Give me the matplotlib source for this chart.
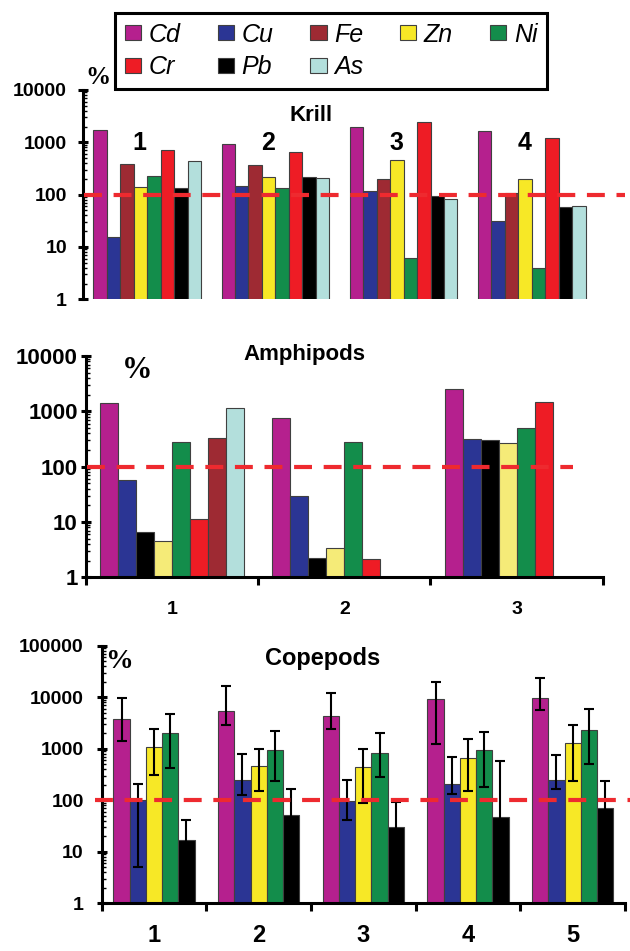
import numpy as np
import matplotlib
matplotlib.use("Agg")
import matplotlib.pyplot as plt
import matplotlib.transforms as mtransforms
from matplotlib.ticker import LogLocator, NullFormatter, FixedLocator, FixedFormatter

plt.rcParams['font.family'] = ['Liberation Sans', 'DejaVu Sans']

# ---------------- data ----------------
metal_colors = {
    'Cd': '#B5208E', 'Cu': '#2B3594', 'Fe': '#9E2A33', 'Zn': '#F7E826',
    'Ni': '#138D4B', 'Cr': '#EE1C25', 'Pb': '#000000', 'As': '#B3DFDC',
}
zn_pale = '#F5EB78'

krill_groups = ['1', '2', '3', '4']
krill_metals = ['Cd', 'Cu', 'Fe', 'Zn', 'Ni', 'Cr', 'Pb', 'As']
krill_Cd = [1730, 930, 2000, 1650]
krill_Cu = [15.5, 149, 116, 32]
krill_Fe = [386, 370, 199, 109]
krill_Zn = [142, 218, 455, 199]
krill_Ni = [228, 136, 6.1, 4.0]
krill_Cr = [726, 664, 2420, 1230]
krill_Pb = [136, 218, 96, 57]
krill_As = [435, 206, 84, 62]

amph_groups = ['1', '2', '3']
amph_metals = ['Cd', 'Cu', 'Pb', 'Zn', 'Ni', 'Cr', 'Fe', 'As']
amph_Cd = [1400, 760, 2510]
amph_Cu = [57, 29, 313]
amph_Pb = [6.7, 2.26, 300]
amph_Zn = [4.5, 3.4, 268]
amph_Ni = [283, 283, 507]
amph_Cr = [11.5, 2.14, 1460]
amph_Fe = [326, np.nan, np.nan]
amph_As = [1150, np.nan, np.nan]

cope_groups = ['1', '2', '3', '4', '5']
cope_metals = ['Cd', 'Cu', 'Zn', 'Ni', 'Pb']
cope_Cd = [3740, 5500, 4280, 9270, 9690]
cope_Cd_hi = [9550, 16600, 12300, 19800, 24000]
cope_Cd_lo = [1440, 2900, 2430, 1220, 5590]
cope_Cu = [104, 248, 98, 205, 248]
cope_Cu_hi = [207, 794, 244, 684, 758]
cope_Cu_lo = [5.0, 128, 41.5, 133, 164]
cope_Zn = [1080, 470, 450, 663, 1310]
cope_Zn_hi = [2430, 1005, 1005, 1550, 2940]
cope_Zn_lo = [306, 154, 90, 151, 240]
cope_Ni = [2060, 935, 840, 935, 2290]
cope_Ni_hi = [4740, 2220, 2000, 2120, 5850]
cope_Ni_lo = [418, 240, 287, 181, 507]
cope_Pb = [16.9, 52.5, 30.3, 47.4, 70]
cope_Pb_hi = [41.5, 166, 91.5, 587, 240]
cope_Pb_lo = [6.9, 16.6, 10, 3.8, 20.4]

reference_level = 100

# ---------------- figure ----------------
W, H = 630, 951
fig = plt.figure(figsize=(W / 100, H / 100), dpi=100)


def px_axes(l, r, t, b):
    return fig.add_axes([l / W, 1 - b / H, (r - l) / W, (b - t) / H])


ax_k = px_axes(83, 596, 90, 299.3)
ax_a = px_axes(86, 602.7, 356, 577.3)
ax_c = px_axes(101.7, 625, 646, 903.3)

EDGE = '#404040'
RED = '#EE2A2F'
SPW = 2.2


def style_y(ax, ymax, pad, size):
    ax.set_yscale('log')
    ax.set_ylim(1, ymax)
    ax.yaxis.set_minor_locator(LogLocator(base=10, subs=np.arange(2, 10), numticks=20))
    ax.yaxis.set_minor_formatter(NullFormatter())
    ticks = [10 ** k for k in range(0, int(round(np.log10(ymax))) + 1)]
    ax.set_yticks(ticks)
    ax.set_yticklabels([str(t) for t in ticks])
    ax.tick_params(axis='y', which='major', direction='inout', length=7, width=SPW,
                   pad=pad, labelsize=size)
    ax.tick_params(axis='y', which='minor', direction='in', length=3, width=1.0)
    for lab in ax.get_yticklabels():
        lab.set_fontweight('bold')
    for s in ['top', 'right']:
        ax.spines[s].set_visible(False)
    ax.spines['left'].set_linewidth(SPW)
    ax.spines['bottom'].set_linewidth(SPW)


def ref_line(ax, x0, x1):
    tr = mtransforms.blended_transform_factory(ax.transAxes, ax.transData)
    ax.plot([x0, x1], [reference_level, reference_level], transform=tr, clip_on=False,
            color=RED, lw=3, dashes=(4.3, 2.8), zorder=5)


# ---------------- Krill ----------------
krill_vals = {'Cd': krill_Cd, 'Cu': krill_Cu, 'Fe': krill_Fe, 'Zn': krill_Zn,
              'Ni': krill_Ni, 'Cr': krill_Cr, 'Pb': krill_Pb, 'As': krill_As}
xk = np.arange(len(krill_groups))
wk = 0.105
nk = len(krill_metals)
handles = {}
for j, m in enumerate(krill_metals):
    off = (j - (nk - 1) / 2) * wk
    bc = ax_k.bar(xk + off, krill_vals[m], width=wk, color=metal_colors[m],
                  edgecolor=EDGE, linewidth=0.8, label=m, zorder=2)
    handles[m] = bc
ax_k.set_xlim(-0.5, len(krill_groups) - 0.5)
style_y(ax_k, 10000, 8, 14)
ax_k.spines['bottom'].set_visible(False)
ax_k.set_xticks([])
ref_line(ax_k, 0.002, 1.057)
trk = mtransforms.blended_transform_factory(ax_k.transData, ax_k.transAxes)
for i, g in enumerate(krill_groups):
    ax_k.text(i - 0.06, 0.745, g, transform=trk, ha='center', va='center',
              fontsize=18, fontweight='bold', zorder=6)
ax_k.text(0.444, 0.876, 'Krill', transform=ax_k.transAxes, ha='center', va='center',
          fontsize=16, fontweight='bold')

# ---------------- Amphipods ----------------
amph_vals = {'Cd': amph_Cd, 'Cu': amph_Cu, 'Pb': amph_Pb, 'Zn': amph_Zn,
             'Ni': amph_Ni, 'Cr': amph_Cr, 'Fe': amph_Fe, 'As': amph_As}
xa = np.arange(len(amph_groups))
wa = 0.1045
na = len(amph_metals)
for j, m in enumerate(amph_metals):
    off = (j - (na - 1) / 2) * wa
    vals = np.array(amph_vals[m], dtype=float)
    ok = ~np.isnan(vals)
    col = zn_pale if m == 'Zn' else metal_colors[m]
    ax_a.bar(xa[ok] + off, vals[ok], width=wa, color=col, edgecolor=EDGE,
             linewidth=0.8, zorder=2)
ax_a.set_xlim(-0.5, len(amph_groups) - 0.5)
style_y(ax_a, 10000, 2.5, 16)
ax_a.xaxis.set_major_locator(FixedLocator(np.arange(len(amph_groups) + 1) - 0.5))
ax_a.xaxis.set_major_formatter(NullFormatter())
ax_a.xaxis.set_minor_locator(FixedLocator(xa))
ax_a.xaxis.set_minor_formatter(FixedFormatter(amph_groups))
ax_a.tick_params(axis='x', which='major', direction='out', length=6, width=SPW)
ax_a.tick_params(axis='x', which='minor', length=0, pad=17, labelsize=14)
for lab in ax_a.xaxis.get_minorticklabels():
    lab.set_fontweight('bold')
ref_line(ax_a, 0.002, 0.943)
ax_a.text(0.422, 1.009, 'Amphipods', transform=ax_a.transAxes, ha='center',
          va='center', fontsize=16, fontweight='bold')

# ---------------- Copepods ----------------
cope_vals = {'Cd': (cope_Cd, cope_Cd_lo, cope_Cd_hi), 'Cu': (cope_Cu, cope_Cu_lo, cope_Cu_hi),
             'Zn': (cope_Zn, cope_Zn_lo, cope_Zn_hi), 'Ni': (cope_Ni, cope_Ni_lo, cope_Ni_hi),
             'Pb': (cope_Pb, cope_Pb_lo, cope_Pb_hi)}
xc = np.arange(len(cope_groups))
wc = 0.155
nc = len(cope_metals)
for j, m in enumerate(cope_metals):
    off = (j - (nc - 1) / 2) * wc
    v, lo, hi = (np.array(a, dtype=float) for a in cope_vals[m])
    ax_c.bar(xc + off, v, width=wc, color=metal_colors[m], edgecolor=EDGE,
             linewidth=0.8, zorder=2)
    ax_c.errorbar(xc + off, v, yerr=[v - lo, hi - v], fmt='none', ecolor='black',
                  elinewidth=1.5, capsize=3.5, capthick=1.5, zorder=3)
ax_c.set_xlim(-0.5, len(cope_groups) - 0.5)
style_y(ax_c, 100000, 9.5, 14)
ax_c.xaxis.set_major_locator(FixedLocator(np.arange(len(cope_groups) + 1) - 0.5))
ax_c.xaxis.set_major_formatter(NullFormatter())
ax_c.xaxis.set_minor_locator(FixedLocator(xc))
ax_c.xaxis.set_minor_formatter(FixedFormatter(cope_groups))
ax_c.tick_params(axis='x', which='major', direction='out', length=6, width=SPW)
ax_c.tick_params(axis='x', which='minor', length=0, pad=15, labelsize=17)
for lab in ax_c.xaxis.get_minorticklabels():
    lab.set_fontweight('bold')
ref_line(ax_c, -0.013, 1.01)
ax_c.text(0.423, 0.953, 'Copepods', transform=ax_c.transAxes, ha='center',
          va='center', fontsize=17, fontweight='bold')

# ---------------- % labels ----------------
pct_kw = dict(ha='center', va='center', fontweight='bold',
              family=['Liberation Serif', 'DejaVu Serif'])
fig.text(98 / W, 1 - 77 / H, '%', fontsize=18, **pct_kw)
fig.text(137.5 / W, 1 - 370 / H, '%', fontsize=22, **pct_kw)
fig.text(119 / W, 1 - 661 / H, '%', fontsize=20, **pct_kw)

# ---------------- legend ----------------
leg_order = ['Cd', 'Cr', 'Cu', 'Pb', 'Fe', 'As', 'Zn', 'Ni']
leg = fig.legend([handles[m] for m in leg_order], leg_order, ncol=5, loc='upper left',
                 bbox_to_anchor=(115 / W, 1 - 12.7 / H, (547.3 - 115) / W, 0),
                 mode='expand', prop=dict(style='italic', size=18),
                 frameon=True, fancybox=False, edgecolor='black', framealpha=1,
                 borderpad=0.4, handlelength=0.65, handleheight=0.55,
                 handletextpad=0.3, labelspacing=0.35, borderaxespad=0,
                 columnspacing=0.5)
leg.get_frame().set_linewidth(SPW)

fig.savefig('out.png', dpi=100)
